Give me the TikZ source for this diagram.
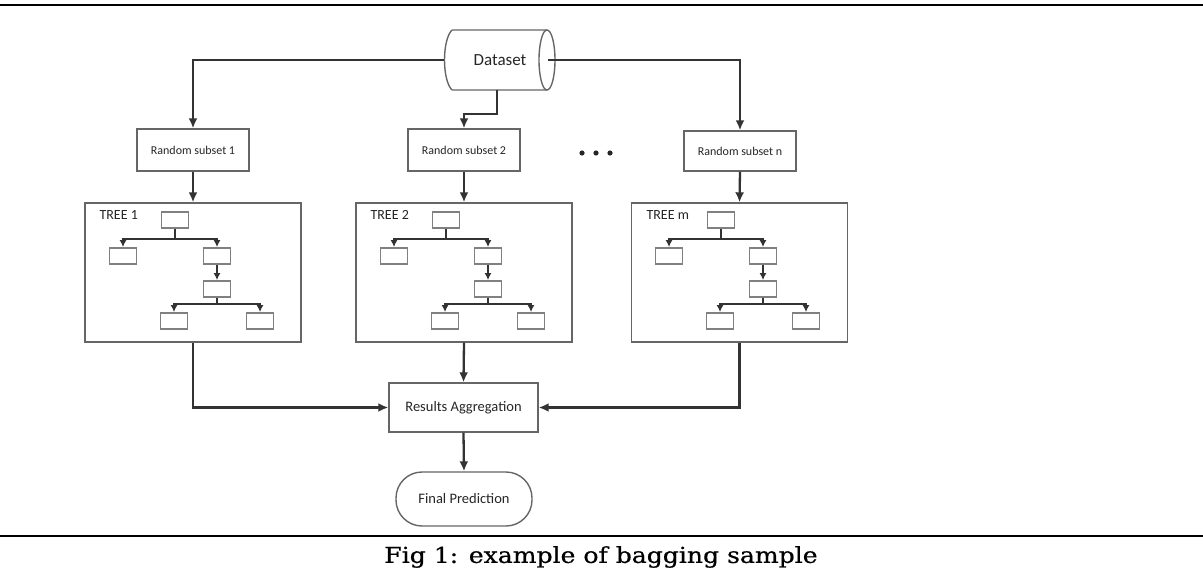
\documentclass[tikz,border=0pt]{standalone}
\usepackage{fontspec}
\setmainfont{Carlito}
\newfontfamily\capfont[FakeBold=0.5]{DejaVu Serif}
\usetikzlibrary{arrows.meta}

\begin{document}
\begin{tikzpicture}[x=1pt,y=-1pt,
	conn/.style={draw=black!80,line width=2.3pt},
	arr/.style={conn,-{Latex[length=10pt,width=9pt]}},
	tarr/.style={draw=black!80,line width=1.8pt,-{Latex[length=7pt,width=7pt]}},
	box/.style={draw=black!60,line width=1.4pt,fill=white,text=black!85,inner sep=0pt},
	subsetbox/.style={box,minimum width=112pt,minimum height=42pt,font=\fontsize{12}{14}\selectfont},
	treebox/.style={box,minimum width=216pt,minimum height=139pt},
	leafbox/.style={box,draw=black!50,line width=1.8pt,minimum width=27pt,minimum height=16pt},
	treelabel/.style={anchor=west,text=black!85,font=\fontsize{14}{16}\selectfont}]
	\useasboundingbox (0,0) rectangle (1203,578);
	% rules and caption
	\draw[line width=2.5pt] (0,5) -- (1203,5);
	\draw[line width=2.5pt] (0,536) -- (1203,536);
	\node (cap) at (601,557) {\scalebox{1.14}[1]{\capfont\fontsize{22}{24}\selectfont Fig 1: example of bagging sample}};

	% data and subsets
	\node[inner sep=0pt,minimum width=111pt,minimum height=60pt,text=black!85,font=\fontsize{17}{19}\selectfont] (ds) at (500,60) {Dataset};
	\draw[draw=black!60,line width=1.4pt] (452,30) -- (547,30) (452,90) -- (547,90)
		(452,30) .. controls (442,40) and (442,80) .. (452,90);
	\draw[draw=black!60,line width=1.4pt] (547,60) ellipse [x radius=8, y radius=30];
	\coordinate (dsout) at (548,60);
	\node[subsetbox] (sub1) at (193,150) {Random subset 1};
	\node[subsetbox] (sub2) at (464,150) {Random subset 2};
	\node[subsetbox,minimum height=40pt] (subn) at (740,151) {Random subset n};
	\fill[black!85] (582,153) circle [radius=2.6pt];
	\fill[black!85] (596,153) circle [radius=2.6pt];
	\fill[black!85] (610,153) circle [radius=2.6pt];

	% tree 1
	\node[treebox] (tree1) at (193,272.5) {};
	\node[treelabel] (lab1) at (96,215) {TREE 1};
	\node[leafbox] (t1r) at (175,220) {};
	\node[leafbox] (t1a) at (123,256) {};
	\node[leafbox] (t1b) at (217,256) {};
	\node[leafbox] (t1c) at (217,289) {};
	\node[leafbox] (t1d) at (174,321) {};
	\node[leafbox] (t1e) at (260,321) {};
	\draw[tarr] (t1r.south) -- ++(0,10) -| (t1a.north);
	\draw[tarr] (t1r.south) -- ++(0,10) -| (t1b.north);
	\draw[tarr] (t1b.south) -- (t1c.north);
	\draw[tarr] (t1c.south) -- ++(0,6) -| (t1d.north);
	\draw[tarr] (t1c.south) -- ++(0,6) -| (t1e.north);

	% tree 2
	\node[treebox] (tree2) at (464,272.5) {};
	\node[treelabel] (lab2) at (367,215) {TREE 2};
	\node[leafbox] (t2r) at (446,220) {};
	\node[leafbox] (t2a) at (394,256) {};
	\node[leafbox] (t2b) at (488,256) {};
	\node[leafbox] (t2c) at (488,289) {};
	\node[leafbox] (t2d) at (445,321) {};
	\node[leafbox] (t2e) at (531,321) {};
	\draw[tarr] (t2r.south) -- ++(0,10) -| (t2a.north);
	\draw[tarr] (t2r.south) -- ++(0,10) -| (t2b.north);
	\draw[tarr] (t2b.south) -- (t2c.north);
	\draw[tarr] (t2c.south) -- ++(0,6) -| (t2d.north);
	\draw[tarr] (t2c.south) -- ++(0,6) -| (t2e.north);

	% tree m
	\node[treebox] (treem) at (739.5,272.5) {};
	\node[treelabel] (labm) at (643,215) {TREE m};
	\node[leafbox] (tmr) at (721,220) {};
	\node[leafbox] (tma) at (669,256) {};
	\node[leafbox] (tmb) at (763,256) {};
	\node[leafbox] (tmc) at (763,289) {};
	\node[leafbox] (tmd) at (720,321) {};
	\node[leafbox] (tme) at (806,321) {};
	\draw[tarr] (tmr.south) -- ++(0,10) -| (tma.north);
	\draw[tarr] (tmr.south) -- ++(0,10) -| (tmb.north);
	\draw[tarr] (tmb.south) -- (tmc.north);
	\draw[tarr] (tmc.south) -- ++(0,6) -| (tmd.north);
	\draw[tarr] (tmc.south) -- ++(0,6) -| (tme.north);

	% aggregation
	\node[box,minimum width=149pt,minimum height=49pt,font=\fontsize{14.5}{16}\selectfont] (res) at (463.5,407.5) {Results Aggregation};
	\node[box,minimum width=136pt,minimum height=54pt,rounded corners=26pt,font=\fontsize{14.5}{16}\selectfont] (fin) at (464,499) {Final Prediction};

	% connectors
	\draw[arr] (ds.west) -| (sub1.north);
	\draw[arr] (dsout) -| (subn.north);
	\draw[arr] ([xshift=-3pt]ds.south) -- ++(0,24) -| (sub2.north);
	\draw[arr] (sub1.south) -- (tree1.north);
	\draw[arr] (sub2.south) -- (tree2.north);
	\draw[arr] (subn.south) -- (treem.north);
	\draw[arr] (tree1.south) |- (res.west);
	\draw[arr] (treem.south) |- (res.east);
	\draw[arr] (tree2.south) -- (res.north);
	\draw[arr] (res.south) -- (fin.north);
\end{tikzpicture}
\end{document}
